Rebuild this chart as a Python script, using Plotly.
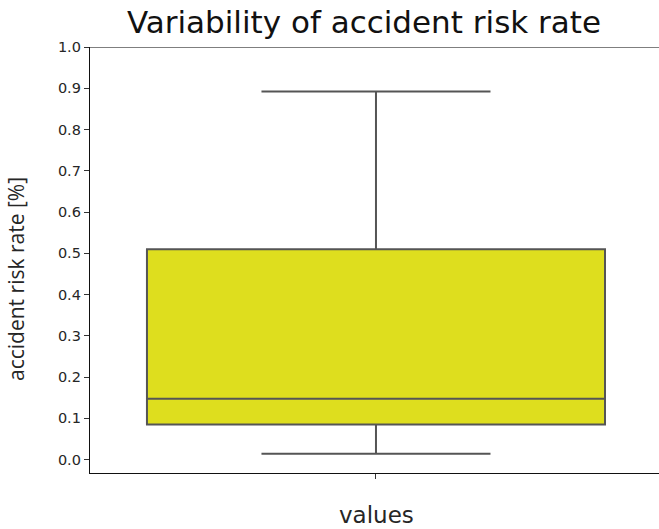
import plotly.graph_objects as go

categories = ["values"]
q1 = [0.085]
median = [0.147]
q3 = [0.51]
lower_whisker = [0.014]
upper_whisker = [0.892]
y_ticks = [0.0, 0.1, 0.2, 0.3, 0.4, 0.5, 0.6, 0.7, 0.8, 0.9, 1.0]

fig = go.Figure()
fig.add_trace(go.Box(
    x=[0],
    q1=q1, median=median, q3=q3,
    lowerfence=lower_whisker, upperfence=upper_whisker,
    name=categories[0],
    fillcolor="#DEDE1E",
    line=dict(color="#555555", width=2),
    width=0.805,
    whiskerwidth=0.5,
    boxpoints=False,
    showlegend=False,
    hoverinfo="y",
))

fig.update_layout(
    width=659, height=529,
    margin=dict(l=90, r=0, t=47, b=56),
    paper_bgcolor="white", plot_bgcolor="white",
    font=dict(family="DejaVu Sans", color="#262626"),
    title=dict(text="Variability of accident risk rate", x=364/659, xanchor="center",
               y=1 - 22/529, yanchor="middle",
               font=dict(size=31, family="DejaVu Sans", color="#111111")),
    xaxis=dict(range=[-0.5026, 0.4974], tickvals=[0], ticktext=[""],
               showline=True, linecolor="#111111", linewidth=1.3,
               ticks="outside", ticklen=5, tickcolor="#333333", tickwidth=1.2,
               showgrid=False, zeroline=False, fixedrange=True),
    yaxis=dict(range=[-0.0327, 1.0], tickvals=y_ticks,
               ticktext=[f"{v:.1f}" for v in y_ticks],
               tickfont=dict(size=14.5, family="DejaVu Sans", color="#262626"),
               showline=True, linecolor="#111111", linewidth=1.3,
               ticks="outside", ticklen=5, tickcolor="#333333", tickwidth=1.2,
               showgrid=False, zeroline=False),
    shapes=[dict(type="line", xref="paper", yref="y", x0=0, x1=1, y0=1.0, y1=1.0,
                 line=dict(color="#555555", width=1.5))],
    annotations=[
        dict(text="values", xref="paper", yref="paper", x=(376 - 90) / 569, y=-(515 - 473) / 426,
             xanchor="center", yanchor="middle", showarrow=False,
             font=dict(size=23, family="DejaVu Sans", color="#262626")),
        dict(text="accident risk rate [%]", xref="paper", yref="paper",
             x=-(90 - 16) / 569, y=(473 - 279) / 426, xanchor="center", yanchor="middle",
             textangle=-90, showarrow=False,
             font=dict(size=21, family="Open Sans", color="#262626")),
    ],
)

fig.write_html("out.html", config={"displayModeBar": False},
               post_script="document.body.style.margin='0';document.body.style.overflow='hidden';")
